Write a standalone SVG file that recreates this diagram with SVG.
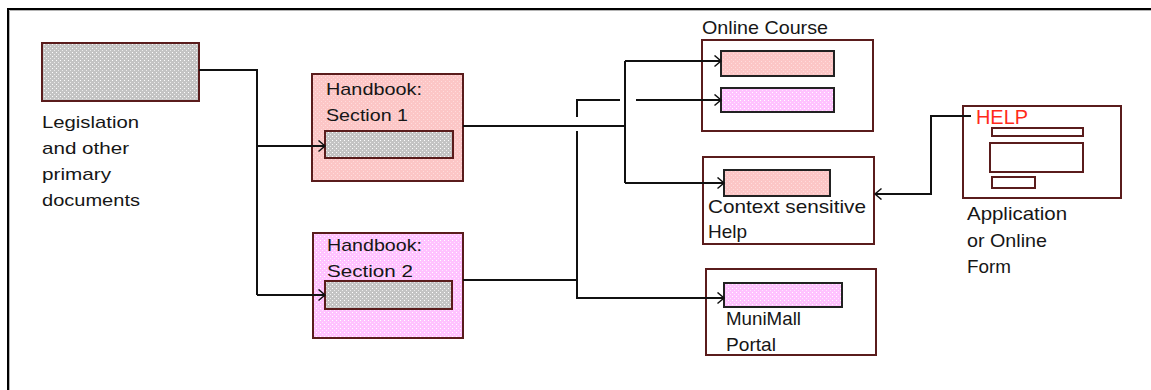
<svg xmlns="http://www.w3.org/2000/svg" width="1151" height="390" viewBox="0 0 1151 390">
  <defs>
    <!-- stippled fills -->
    <pattern id="dotGray" width="4" height="4" patternUnits="userSpaceOnUse">
      <rect width="4" height="4" fill="#c4c4c4"/>
      <rect x="0" y="0" width="1" height="1" fill="#ffffff"/>
      <rect x="2" y="2" width="1" height="1" fill="#ececec"/>
    </pattern>
    <pattern id="dotPink" width="4" height="4" patternUnits="userSpaceOnUse">
      <rect width="4" height="4" fill="#fcc6c6"/>
      <rect x="1" y="1" width="1" height="1" fill="#ffdcdc"/>
      <rect x="3" y="3" width="1" height="1" fill="#ffdcdc"/>
    </pattern>
    <pattern id="dotViolet" width="4" height="4" patternUnits="userSpaceOnUse">
      <rect width="4" height="4" fill="#ffc2ff"/>
      <rect x="0" y="0" width="1" height="1" fill="#ffffff"/>
      <rect x="2" y="2" width="1" height="1" fill="#ffe6ff"/>
    </pattern>
    <marker id="chev" markerUnits="userSpaceOnUse" markerWidth="10" markerHeight="14" refX="7" refY="6" orient="auto">
      <path d="M0.5,0.5 L7,6 L0.5,11.5" fill="none" stroke="#111" stroke-width="1.5"/>
    </marker>
    <style>
      .frame { fill: none; stroke: #5a1c1c; stroke-width: 2; }
      .inner { stroke: #222; stroke-width: 2; }
      .gray { fill: url(#dotGray); }
      .pink { fill: url(#dotPink); }
      .violet { fill: url(#dotViolet); }
      .conn { fill: none; stroke: #111; stroke-width: 2; }
      .arrow { marker-end: url(#chev); }
      .lbl { font-family: "Liberation Sans", Arial, sans-serif; fill: #161616; }
      .sm { font-size: 17px; }
      .lg { font-size: 19px; }
    </style>
  </defs>

  <rect width="1151" height="390" fill="#ffffff"/>

  <!-- sunken page border -->
  <path d="M8 392 V9 H1153" fill="none" stroke="#000" stroke-width="2"/>
  <path d="M9.5 392 V10.5 H1153" fill="none" stroke="#b4b4b4" stroke-width="1"/>

  <g id="legislation">
    <rect class="gray" x="42" y="43" width="157" height="58" fill="none" stroke="#5a1c1c" stroke-width="2"/>
    <text class="lbl sm" x="42" y="128" textLength="97" lengthAdjust="spacingAndGlyphs">Legislation</text>
    <text class="lbl sm" x="42" y="154" textLength="87" lengthAdjust="spacingAndGlyphs">and other</text>
    <text class="lbl sm" x="42" y="180" textLength="69" lengthAdjust="spacingAndGlyphs">primary</text>
    <text class="lbl sm" x="42" y="206" textLength="98" lengthAdjust="spacingAndGlyphs">documents</text>
  </g>

  <g id="handbook-1">
    <rect class="pink" x="312" y="74" width="151" height="107" stroke="#5a1c1c" stroke-width="2"/>
    <text class="lbl sm" x="326" y="95" textLength="96" lengthAdjust="spacingAndGlyphs">Handbook:</text>
    <text class="lbl sm" x="326" y="121" textLength="82" lengthAdjust="spacingAndGlyphs">Section 1</text>
    <rect class="gray" x="325" y="131" width="128" height="27" stroke="#5a1c1c" stroke-width="2"/>
  </g>

  <g id="handbook-2">
    <rect class="violet" x="313" y="233" width="150" height="105" stroke="#5a1c1c" stroke-width="2"/>
    <text class="lbl sm" x="327" y="251" textLength="95" lengthAdjust="spacingAndGlyphs">Handbook:</text>
    <text class="lbl sm" x="327" y="277" textLength="86" lengthAdjust="spacingAndGlyphs">Section 2</text>
    <rect class="gray" x="325" y="281" width="127" height="28" stroke="#5a1c1c" stroke-width="2"/>
  </g>

  <g id="online-course">
    <text class="lbl lg" x="702" y="34" textLength="126" lengthAdjust="spacingAndGlyphs">Online Course</text>
    <rect class="frame" x="702" y="40" width="171" height="91"/>
    <rect class="pink inner" x="721" y="51" width="113" height="25"/>
    <rect class="violet inner" x="721" y="88" width="113" height="24"/>
  </g>

  <g id="context-help">
    <rect class="frame" x="703" y="157" width="171" height="87"/>
    <rect class="pink inner" x="724" y="170" width="106" height="26"/>
    <text class="lbl lg" x="708" y="213" textLength="158" lengthAdjust="spacingAndGlyphs">Context sensitive</text>
    <text class="lbl lg" x="708" y="238" textLength="39" lengthAdjust="spacingAndGlyphs">Help</text>
  </g>

  <g id="munimall">
    <rect class="frame" x="706" y="269" width="170" height="86"/>
    <rect class="violet inner" x="724" y="283" width="118" height="24"/>
    <text class="lbl lg" x="726" y="325" textLength="75" lengthAdjust="spacingAndGlyphs">MuniMall</text>
    <text class="lbl lg" x="726" y="351" textLength="50" lengthAdjust="spacingAndGlyphs">Portal</text>
  </g>

  <g id="application">
    <rect class="frame" x="963" y="106" width="158" height="92"/>
    <text x="976" y="124" font-family="Liberation Sans, Arial, sans-serif" font-size="20" fill="#ff2a1a" textLength="52" lengthAdjust="spacingAndGlyphs">HELP</text>
    <rect class="frame" x="992" y="128" width="91" height="8"/>
    <rect class="frame" x="990" y="143" width="93" height="29"/>
    <rect class="frame" x="992" y="177" width="43" height="11"/>
    <text class="lbl lg" x="967" y="220" textLength="100" lengthAdjust="spacingAndGlyphs">Application</text>
    <text class="lbl lg" x="967" y="246.5" textLength="80" lengthAdjust="spacingAndGlyphs">or Online</text>
    <text class="lbl lg" x="967" y="273" textLength="44" lengthAdjust="spacingAndGlyphs">Form</text>
  </g>

  <!-- connectors, drawn over the boxes they enter -->
  <g id="connectors">
    <path class="conn" d="M199 70 H257 V295"/>
    <path class="conn arrow" d="M257 295 H325"/>
    <path class="conn arrow" d="M257 146 H325"/>
    <path class="conn" d="M463 126 H625"/>
    <path class="conn" d="M625 61 V183"/>
    <path class="conn arrow" d="M625 61 H721"/>
    <path class="conn arrow" d="M625 183 H724"/>
    <path class="conn" d="M463 280 H577"/>
    <path class="conn" d="M620 100 H577 V117"/>
    <path class="conn arrow" d="M636 100 H721"/>
    <path class="conn arrow" d="M577 131 V298 H724"/>
    <path class="conn arrow" d="M971 116 H931 V194 H875"/>
  </g>
</svg>
